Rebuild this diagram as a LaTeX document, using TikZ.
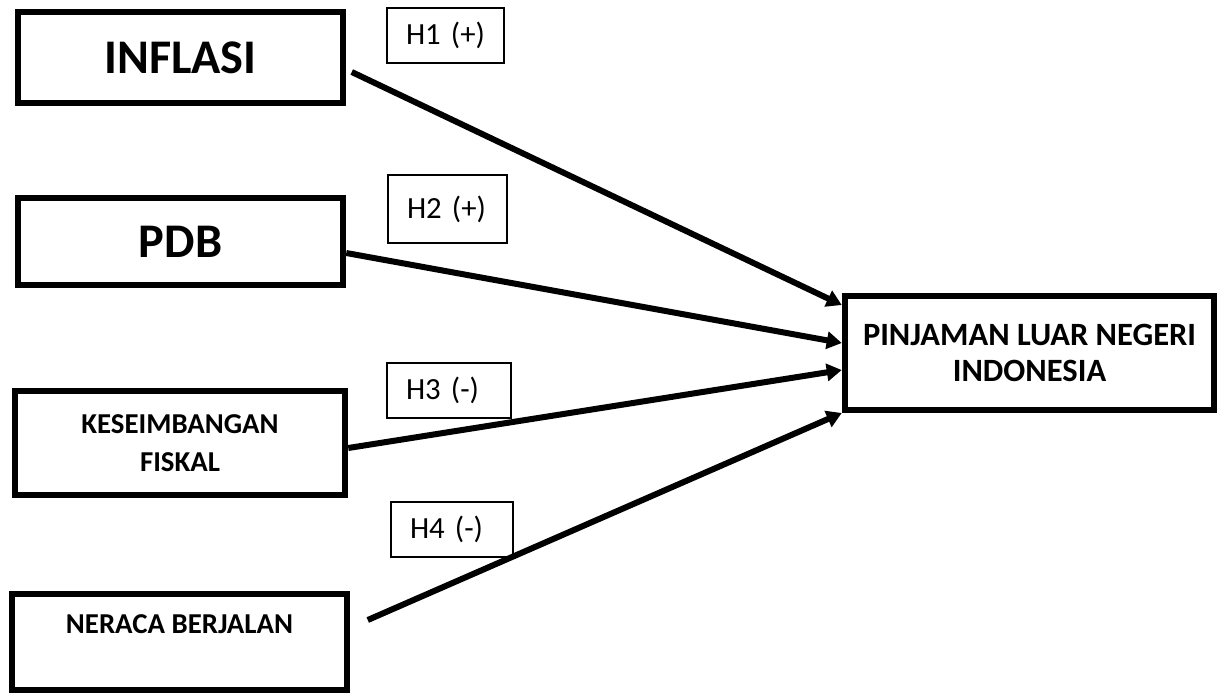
\documentclass[tikz,border=0pt]{standalone}
\usepackage{fontspec}
\setmainfont{Carlito}
\usepackage{tikz}
\usetikzlibrary{shapes, arrows.meta, positioning, calc}
\tikzset{
    varbox/.style={
        rectangle, draw, line width=0.13cm,
        align=center, font=\bfseries, inner sep=0pt
    },
    hypbox/.style={
        rectangle, draw, line width=0.8pt,
        align=left, inner xsep=0.38cm, inner ysep=0pt,
        font=\fontsize{17.5}{21}\selectfont
    },
    line/.style={draw, line width=0.12cm, -{Triangle[length=0.3cm, width=0.34cm]}}
}

\begin{document}
\begin{tikzpicture}
    \useasboundingbox (0,0) rectangle (24.4,-13.88);
    % Variables
    \node [varbox, minimum width=6.5cm, minimum height=1.82cm, font=\bfseries\fontsize{27.5}{33}\selectfont] (inflasi) at (3.61,-1.15) {INFLASI};
    \node [varbox, minimum width=6.5cm, minimum height=1.74cm, font=\bfseries\fontsize{27.5}{33}\selectfont] (pdb) at (3.61,-4.83) {PDB};
    \node [varbox, minimum width=6.6cm, minimum height=2.08cm, font=\bfseries\fontsize{16.4}{22}\selectfont] (fiskal) at (3.6,-8.86) {KESEIMBANGAN\\FISKAL};
    \node [varbox, minimum width=6.7cm, minimum height=1.92cm, font=\bfseries\fontsize{16.4}{21}\selectfont] (neraca) at (3.59,-12.84) {NERACA BERJALAN\\~};
    \node [varbox, minimum width=7.38cm, minimum height=2.28cm, font=\bfseries\fontsize{18.5}{20}\selectfont] (pinjaman) at (20.59,-7.06) {PINJAMAN LUAR NEGERI\\INDONESIA};

    % Hypotheses
    \node [hypbox, text width=1.58cm, minimum height=1.1cm] (h1) at (8.91,-0.71) {H1 (+)};
    \node [hypbox, text width=1.62cm, minimum height=1.36cm] (h2) at (8.95,-4.18) {H2 (+)};
    \node [hypbox, text width=1.72cm, minimum height=1.1cm] (h3) at (8.98,-7.81) {H3 (-)};
    \node [hypbox, text width=1.68cm, minimum height=1.1cm] (h4) at (9.04,-10.59) {H4 (-)};

    % Edges
    \draw [line] ([shift={(0.11,-0.29)}]inflasi.east) -- ([yshift=0.96cm]pinjaman.west);
    \draw [line] ([yshift=-0.23cm]pdb.east) -- ([yshift=0.2cm]pinjaman.west);
    \draw [line] ([yshift=-0.1cm]fiskal.east) -- ([yshift=-0.34cm]pinjaman.west);
    \draw [line] ([shift={(0.35,0.44)}]neraca.east) -- ([yshift=-1.2cm]pinjaman.west);
\end{tikzpicture}
\end{document}
